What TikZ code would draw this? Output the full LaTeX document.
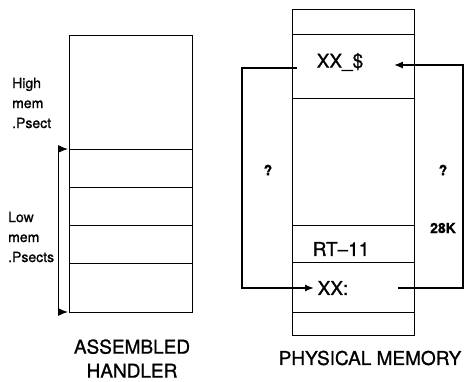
\documentclass[tikz,border=0pt]{standalone}
\usepackage{fontspec}
\setmainfont{TeX Gyre Heros}[FakeBold=1]
\usetikzlibrary{arrows.meta,positioning}
\tikzset{
	slot/.style={draw, line width=0.8pt, inner sep=0pt, outer sep=0pt, minimum width=123pt},
	arrow/.style={-{Latex[length=9pt,width=7pt]}, line width=1.8pt},
	bracket/.style={{Latex[length=10pt,width=8pt]}-{Latex[length=10pt,width=8pt]}, line width=1pt},
	bigtext/.style={font=\fontsize{19}{24}\selectfont, align=center},
	sidetext/.style={font=\fontsize{14}{20}\selectfont, align=left, anchor=west, inner sep=0pt},
	marktext/.style={font=\fontsize{14}{16}\selectfont\bfseries}
}
\begin{document}
\begin{tikzpicture}[x=1pt, y=-1pt]
	\useasboundingbox (0,0) rectangle (466,381);
	
	%% -- Assembled handler ------------------------------------------
	\node[slot, minimum height=114pt, anchor=north west] (a0) at (69,35) {};
	\node[slot, minimum height=38pt, below=0pt of a0] (a1) {};
	\node[slot, minimum height=38pt, below=0pt of a1] (a2) {};
	\node[slot, minimum height=38pt, below=0pt of a2] (a3) {};
	\node[slot, minimum height=49pt, below=0pt of a3] (a4) {};
	
	\node[sidetext] (high) at (12,103) {High\\mem\\.Psect};
	\node[sidetext] (low) at (8,237) {Low\\mem\\.Psects};
	
	% bracket over the low psects
	\draw[bracket] ([xshift=-1pt]a1.north west) -- ++(-10,0) |- ([xshift=-1pt]a4.south west);
	
	\node[bigtext] (asm) at (132,358.5) {ASSEMBLED\\HANDLER};
	
	%% -- Physical memory --------------------------------------------
	\node[slot, minimum width=122pt, minimum height=25pt, anchor=north west] (p0) at (292,9) {};
	\node[slot, minimum width=122pt, minimum height=64pt, below=0pt of p0] (p1) {};
	\node[slot, minimum width=122pt, minimum height=127pt, below=0pt of p1] (p2) {};
	\node[slot, minimum width=122pt, minimum height=37pt, below=0pt of p2] (p3) {};
	\node[slot, minimum width=122pt, minimum height=50pt, below=0pt of p3] (p4) {};
	\node[slot, minimum width=122pt, minimum height=23pt, below=0pt of p4] (p5) {};
	
	\node[bigtext] (xs) at (340,62) {XX\_\$};
	\node[bigtext] (rt) at (341,249) {RT--11};
	\node[bigtext] (xc) at (333,288) {XX:};
	
	\node[marktext] (ql) at (268,170) {?};
	\node[marktext] (qr) at (443,170) {?};
	\node[marktext] (k28) at (443,228) {28K};
	
	% jumps between the two entry points
	\draw[arrow] ([xshift=-16pt,yshift=-6pt]xs.west) -- ++(-55,0) |- (xc.west);
	\draw[arrow] ([xshift=46pt]xc.east) -- ++(65.5,0) |- ([xshift=27pt,yshift=-3pt]xs.east);
	
	\node[bigtext] (phys) at (370,358) {PHYSICAL MEMORY};
\end{tikzpicture}
\end{document}
